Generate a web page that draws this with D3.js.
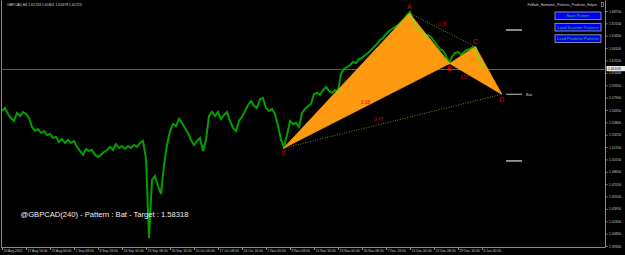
<!DOCTYPE html>
<html>
<head>
<meta charset="utf-8">
<script src="https://cdn.jsdelivr.net/npm/d3@7"></script>
<style>
  html, body { margin: 0; padding: 0; background: #000; }
  svg { display: block; font-family: "Liberation Sans", Arial, sans-serif; }
</style>
</head>
<body>
<div id="chart"></div>
<script>
// GBPCAD H4 with a Bat harmonic pattern (MT4 style)

// ── Data ──
const symbolHeader = "GBPCAD,H4  1.61743 1.61801 1.61678 1.61723";
const indicatorName = "FxMath_Harmonic_Patterns_Predictor_Helper";
const buttonLabels = ["Save Pattern", "Load Scanner Patterns", "Load Predictor Patterns"];
const footerText = "@GBPCAD(240) - Pattern : Bat - Target : 1.58318";

const timeLabels = ["10 Aug 2022", "17 Aug 16:00", "25 Aug 00:00", "1 Sep 08:00", "8 Sep 16:00",
  "16 Sep 00:00", "23 Sep 08:00", "30 Sep 16:00", "10 Oct 00:00", "17 Oct 08:00", "24 Oct 16:00",
  "1 Nov 00:00", "8 Nov 08:00", "15 Nov 16:00", "23 Nov 00:00", "30 Nov 08:00", "7 Dec 16:00",
  "15 Dec 00:00", "22 Dec 08:00", "29 Dec 16:00", "6 Jan 00:00"];
const barsPerLabel = 40;

const priceTicks = [1.68750, 1.67200, 1.65650, 1.64100, 1.62550, 1.61000, 1.59450, 1.57900,
  1.56350, 1.54800, 1.53250, 1.51700, 1.50150, 1.48600, 1.47050, 1.45500, 1.43950, 1.42400,
  1.40850, 1.39300];
const currentPrice = 1.61533;

// closing prices, one every 5 bars
const barStep = 5;
const closes = [
  1.5622, 1.5660, 1.5584, 1.5534, 1.5497, 1.5597, 1.5559, 1.5609, 1.5584, 1.5534,
  1.5422, 1.5371, 1.5396, 1.5346, 1.5371, 1.5321, 1.5334, 1.5284, 1.5296, 1.5234,
  1.5271, 1.5221, 1.5259, 1.5221, 1.5246, 1.5171, 1.5121, 1.5071, 1.5146, 1.5121,
  1.5133, 1.5071, 1.5046, 1.5071, 1.5108, 1.5133, 1.5171, 1.5133, 1.5208, 1.5158,
  1.5183, 1.5146, 1.5183, 1.5158, 1.5196, 1.5171, 1.5221, 1.5246, 1.5033, 1.4031,
  1.4757, 1.4808, 1.4682, 1.4582, 1.4945, 1.5196, 1.5371, 1.5459, 1.5434, 1.5522,
  1.5472, 1.5409, 1.5346, 1.5259, 1.5196, 1.5246, 1.5284, 1.5121, 1.5259, 1.5559,
  1.5609, 1.5559, 1.5609, 1.5522, 1.5572, 1.5609, 1.5497, 1.5409, 1.5371, 1.5497,
  1.5547, 1.5622, 1.5697, 1.5747, 1.5685, 1.5660, 1.5772, 1.5785, 1.5660, 1.5622,
  1.5647, 1.5584, 1.5434, 1.5259, 1.5171, 1.5321, 1.5497, 1.5459, 1.5472, 1.5422,
  1.5597, 1.5647, 1.5685, 1.5710, 1.5835, 1.5848, 1.5823, 1.5885, 1.5923, 1.5873,
  1.5848, 1.5885, 1.5860, 1.6086, 1.6148, 1.6173, 1.6198, 1.6236, 1.6223, 1.6274,
  1.6286, 1.6324, 1.6349, 1.6386, 1.6424, 1.6462, 1.6512, 1.6537, 1.6587, 1.6624,
  1.6649, 1.6675, 1.6700, 1.6737, 1.6775, 1.6825, 1.6862, 1.6762, 1.6662, 1.6649,
  1.6612, 1.6562, 1.6574, 1.6549, 1.6499, 1.6449, 1.6399, 1.6374, 1.6311, 1.6223,
  1.6299, 1.6349, 1.6361, 1.6324, 1.6361, 1.6386, 1.6399, 1.6424, 1.6411, 1.6261,
  1.6198, 1.6158
];

// harmonic pattern
const patNames = ["X", "A", "B", "C", "D"];
const patBars = [469, 679, 746, 789, 833];
const patPrices = [1.5155, 1.6846, 1.6217, 1.6428, 1.58318];
const ratioLabels = ["0.38", "0.47", "0.36", "2.07"];
const ratioPairs = [[0, 2], [0, 4], [1, 3], [2, 4]];

// projected levels on the right
const levelPrices = [1.6637, 1.58318, 1.4996];
const levelNames = ["", "Bat", ""];

// ── Setup ──
const width = 625, height = 255;
const plotRight = 605.5, plotBottom = 247.5;

const svg = d3.select("#chart").append("svg")
  .attr("width", width)
  .attr("height", height);

svg.append("rect").attr("width", width).attr("height", height).attr("fill", "#000");

const x = d3.scaleLinear().domain([0, 800]).range([2, 482]);
const y = d3.scaleLinear().domain([1.39300, 1.68750]).range([246.0, 11]);

// ── Frame ──
svg.append("path")
  .attr("d", `M1.5,0.5 V${plotBottom} H${plotRight} V0.5`)
  .attr("fill", "none")
  .attr("stroke", "#8a8a8a")
  .attr("stroke-width", 1);

// current price line
const cpY = Math.round(y(currentPrice)) + 0.5;
svg.append("line")
  .attr("x1", 1.5).attr("x2", plotRight)
  .attr("y1", cpY).attr("y2", cpY)
  .attr("stroke", "#5c5c5c").attr("stroke-width", 1);

// ── Price series ──
const line = d3.line()
  .x((d, i) => x(i * barStep))
  .y(d => y(d));

svg.append("path")
  .datum(closes)
  .attr("d", line)
  .attr("fill", "none")
  .attr("stroke", "#00a000")
  .attr("stroke-width", 2)
  .attr("stroke-linejoin", "miter");

// ── Pattern triangles ──
const pts = patBars.map((b, i) => [x(b), y(patPrices[i])]);
const tri = [[0, 1, 2], [2, 3, 4]];
const triPath = t => "M" + t.map(k => pts[k].join(",")).join("L") + "Z";

svg.append("g")
  .selectAll("path")
  .data(tri)
  .join("path")
  .attr("d", triPath)
  .attr("fill", "#ff9a10")
  .attr("stroke", "#ff9a10")
  .attr("stroke-width", 0.8);

// bars over the filled area show up yellow-green
svg.append("clipPath").attr("id", "triClip")
  .selectAll("path")
  .data(tri)
  .join("path")
  .attr("d", triPath);

svg.append("path")
  .datum(closes)
  .attr("d", line)
  .attr("clip-path", "url(#triClip)")
  .attr("fill", "none")
  .attr("stroke", "#9ccc10")
  .attr("stroke-width", 2);

// dotted X-D and A-C
svg.append("g")
  .selectAll("line")
  .data([[0, 4], [1, 3]])
  .join("line")
  .attr("x1", d => pts[d[0]][0]).attr("y1", d => pts[d[0]][1])
  .attr("x2", d => pts[d[1]][0]).attr("y2", d => pts[d[1]][1])
  .attr("stroke", "#a0a030")
  .attr("stroke-width", 0.8)
  .attr("stroke-dasharray", "1,1.5");

// ratio labels
const ratioDx = [-1, -14, 0, -11];
const ratioDy = [-2, 0, -4, 0];
svg.append("g")
  .selectAll("text")
  .data(ratioPairs)
  .join("text")
  .attr("x", (d, i) => (pts[d[0]][0] + pts[d[1]][0]) / 2 + ratioDx[i])
  .attr("y", (d, i) => (pts[d[0]][1] + pts[d[1]][1]) / 2 + ratioDy[i])
  .attr("text-anchor", "middle")
  .attr("font-size", 4.6)
  .attr("fill", "#d80000")
  .text((d, i) => ratioLabels[i]);

// vertex names
const nameDy = [7, -4.5, 7.5, -2.5, 7.5];
svg.append("g")
  .selectAll("text")
  .data(patNames)
  .join("text")
  .attr("x", (d, i) => pts[i][0])
  .attr("y", (d, i) => pts[i][1] + nameDy[i])
  .attr("text-anchor", "middle")
  .attr("font-size", 7)
  .attr("fill", "#e00000")
  .text(d => d);

// ── Levels ──
svg.append("g")
  .selectAll("line")
  .data(levelPrices)
  .join("line")
  .attr("x1", 506).attr("x2", 522)
  .attr("y1", d => y(d)).attr("y2", d => y(d))
  .attr("stroke", (d, i) => i === 1 ? "#a8a8a8" : "#e0e0e0")
  .attr("stroke-width", 1.2);

svg.append("g")
  .selectAll("text")
  .data(levelPrices)
  .join("text")
  .attr("x", 526)
  .attr("y", d => y(d) + 1.3)
  .attr("font-size", 4)
  .attr("fill", "#d0d0d0")
  .text((d, i) => levelNames[i]);

// ── Axes ──
const yAxis = d3.axisRight(y)
  .tickValues(priceTicks)
  .tickFormat(d3.format(".5f"))
  .tickSize(2)
  .tickPadding(1.5);

const gy = svg.append("g")
  .attr("transform", `translate(${plotRight},0)`)
  .call(yAxis);
gy.select(".domain").remove();
gy.selectAll("line").attr("stroke", "#8a8a8a");
gy.selectAll("text").attr("fill", "#c8c8c8").attr("font-size", 3.4);

// current price tag
const cp = svg.append("g").attr("transform", `translate(${plotRight + 1},${y(currentPrice)})`);
cp.append("rect").attr("x", 0).attr("y", -2.6).attr("width", 18.5).attr("height", 5.2).attr("fill", "#e8e8e8");
cp.append("text").attr("x", 1.5).attr("y", 1.3).attr("font-size", 3.5).attr("fill", "#000")
  .text(d3.format(".5f")(currentPrice));

const xAxis = d3.axisBottom(x)
  .tickValues(timeLabels.map((d, i) => i * barsPerLabel))
  .tickFormat((d, i) => timeLabels[i])
  .tickSize(2.5)
  .tickPadding(0);

const gx = svg.append("g")
  .attr("transform", `translate(0,${plotBottom})`)
  .call(xAxis);
gx.select(".domain").remove();
gx.selectAll("line").attr("stroke", "#8a8a8a");
gx.selectAll("text")
  .attr("text-anchor", "start")
  .attr("dx", 1)
  .attr("y", 1)
  .attr("dy", "0.9em")
  .attr("fill", "#c8c8c8")
  .attr("font-size", 3.4);

// ── Header texts ──
svg.append("text")
  .attr("x", 7).attr("y", 5.5)
  .attr("font-size", 3.5)
  .attr("fill", "#d8d8d8")
  .text(symbolHeader);

svg.append("text")
  .attr("x", 597).attr("y", 5.5)
  .attr("text-anchor", "end")
  .attr("font-size", 3.4)
  .attr("fill", "#d8d8d8")
  .text(indicatorName);

svg.append("rect")
  .attr("x", 601.5).attr("y", 2.5).attr("width", 2).attr("height", 4)
  .attr("fill", "none").attr("stroke", "#bbbbbb").attr("stroke-width", 0.6);

// ── Buttons ──
const btn = svg.append("g")
  .selectAll("g")
  .data(buttonLabels)
  .join("g")
  .attr("transform", (d, i) => `translate(555,${12 + i * 11.4})`);

btn.append("rect")
  .attr("width", 46).attr("height", 7.6)
  .attr("fill", "#0000f0")
  .attr("stroke", "#9a9aa8")
  .attr("stroke-width", 0.9);

btn.append("text")
  .attr("x", 23).attr("y", 5.2)
  .attr("text-anchor", "middle")
  .attr("font-size", 4)
  .attr("fill", "#20d020")
  .text(d => d);

// ── Footer ──
svg.append("text")
  .attr("x", 20.5).attr("y", 216.5)
  .attr("font-size", 7.6)
  .attr("fill", "#f0f0f0")
  .text(footerText);
</script>
</body>
</html>
